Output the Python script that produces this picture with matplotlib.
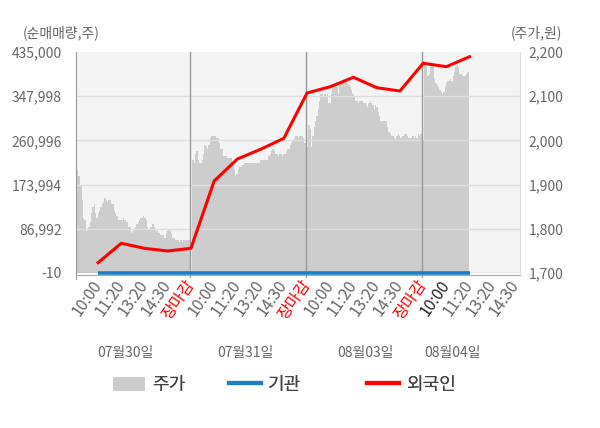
import numpy as np
import matplotlib
matplotlib.use("Agg")
import matplotlib.pyplot as plt
from matplotlib.patches import Patch
from matplotlib.lines import Line2D
from matplotlib.ticker import FixedLocator, FuncFormatter

plt.rcParams['font.family'] = ['Noto Sans CJK KR', 'DejaVu Sans']

# ---------------- data ----------------
tick_labels = ['10:00', '11:20', '13:20', '14:30', '장마감',
               '10:00', '11:20', '13:20', '14:30', '장마감',
               '10:00', '11:20', '13:20', '14:30', '장마감',
               '10:00', '11:20', '13:20', '14:30']
day_labels = ['07월30일', '07월31일', '08월03일', '08월04일']

price_day1 = [1940, 1935, 1920, 1920, 1900, 1865, 1825, 1820, 1795, 1795, 1805, 1815, 1835, 1850,
              1855, 1835, 1825, 1835, 1840, 1850, 1855, 1860, 1870, 1865, 1860, 1865, 1865, 1855,
              1855, 1840, 1835, 1830, 1820, 1820, 1820, 1820, 1825, 1820, 1815, 1815, 1805, 1805,
              1790, 1795, 1800, 1805, 1810, 1815, 1820, 1825, 1825, 1830, 1825, 1820, 1805, 1800,
              1805, 1805, 1810, 1805, 1800, 1795, 1790, 1790, 1785, 1785, 1785, 1780, 1790, 1795,
              1800, 1795, 1790, 1780, 1780, 1775, 1775, 1775, 1770, 1775, 1770, 1775, 1775, 1775,
              1775, 1775, 1780]
price_day2 = [1950, 1955, 1950, 1970, 1975, 1955, 1950, 1950, 1955, 1970, 1990, 1985, 1980, 1990,
              2005, 2010, 2010, 2010, 2010, 2005, 2005, 1995, 1980, 1980, 1965, 1965, 1965, 1960,
              1960, 1960, 1960, 1950, 1935, 1920, 1925, 1935, 1940, 1940, 1945, 1945, 1950, 1950,
              1950, 1950, 1950, 1950, 1950, 1950, 1950, 1950, 1950, 1950, 1955, 1955, 1955, 1955,
              1955, 1955, 1965, 1970, 1975, 1980, 1975, 1970, 1970, 1965, 1970, 1970, 1965, 1970,
              1970, 1975, 1980, 1980, 1990, 1995, 2000, 2005, 2010, 2010, 2005, 2010, 2010, 2010,
              2005, 1995, 1995, 1985, 1990, 1985]
price_day3 = [1990, 2035, 2025, 1985, 2010, 2030, 2045, 2055, 2070, 2090, 2105, 2105, 2100, 2105,
              2100, 2105, 2085, 2085, 2105, 2120, 2120, 2130, 2120, 2105, 2125, 2130, 2135, 2130,
              2135, 2135, 2130, 2125, 2120, 2115, 2105, 2100, 2090, 2090, 2085, 2090, 2090, 2090,
              2085, 2085, 2080, 2075, 2085, 2090, 2085, 2080, 2070, 2080, 2075, 2065, 2055, 2045,
              2045, 2045, 2045, 2045, 2030, 2020, 2015, 2010, 2010, 2005, 2000, 2010, 2015, 2010,
              2005, 2010, 2010, 2015, 2015, 2010, 2005, 2005, 2005, 2010, 2005, 2010, 2005, 2015,
              2010, 2015, 2005, 2000]
price_day4 = [2165, 2170, 2165, 2145, 2150, 2165, 2170, 2165, 2140, 2130, 2125, 2120, 2115, 2110,
              2105, 2110, 2120, 2130, 2135, 2135, 2140, 2135, 2145, 2155, 2165, 2170, 2165, 2150,
              2150, 2145, 2145, 2145, 2150, 2155, 2140]
price_days = [price_day1, price_day2, price_day3, price_day4]

foreign = [20300, 58500, 48600, 43300, 48600,
           181100, 224400, 243500, 265100, 354300,
           366700, 385200, 364700, 358200, 412800,
           406100, 425800]
institution = [0] * 17

left_ticks = [-10, 86992, 173994, 260996, 347998, 435000]
right_ticks = [1700, 1800, 1900, 2000, 2100, 2200]

# ---------------- figure ----------------
fig = plt.figure(figsize=(6.0, 4.28), dpi=100)
ax2 = fig.add_axes([76 / 600, 155 / 428, 444 / 600, 221 / 428])   # price (right)
ax = ax2.twinx()                                                  # volume (left)
ax.yaxis.set_label_position('left')
ax.yaxis.tick_left()
ax2.yaxis.tick_right()
ax.set_zorder(ax2.get_zorder() + 1)
ax.patch.set_visible(False)
ax2.set_facecolor('#f4f4f4')

# price area
n_full = len(price_day1)
step = 5.0 / n_full
for d, vals in enumerate(price_days):
    xs = 5 * d + step * (np.arange(len(vals)) + 0.5)
    ax2.fill_between(xs, 1700, vals, step='mid', color='#cdcdcd', lw=0)

ax2.set_ylim(1700, 2200)
ax2.yaxis.set_major_locator(FixedLocator(right_ticks))
ax2.yaxis.set_major_formatter(FuncFormatter(lambda v, p: f'{int(v):,}'))

xpos = np.arange(1, len(foreign) + 1)
ax.plot(xpos, institution, color='#1a7fc8', lw=2.6, zorder=5, clip_on=False,
        solid_capstyle='butt')
ax.plot(xpos, foreign, color='#ff0000', lw=2.2, zorder=6)

ax.set_ylim(-10, 435000)
ax.yaxis.set_major_locator(FixedLocator(left_ticks))
ax.yaxis.set_major_formatter(FuncFormatter(lambda v, p: f'{int(v):,}'))
ax2.set_xlim(0.05, 19.17)

# grid
ax.yaxis.grid(True, color='#dddddd', lw=1)
glines = ax.get_ygridlines()
glines[-1].set_visible(False)
glines[0].set_color('#aaaaaa')

# day dividers
for k in [5, 10, 15]:
    ax.axvline(k - 0.05, ymin=-0.02, ymax=1, color='#999999', lw=1, clip_on=False, zorder=4)

for a in (ax, ax2):
    for s in a.spines.values():
        s.set_visible(False)
ax.spines['left'].set_visible(True)
ax.spines['left'].set_color('#999999')
ax.spines['left'].set_bounds(-12000, 435000)
ax2.spines['right'].set_visible(True)
ax2.spines['right'].set_color('#dddddd')
ax2.spines['bottom'].set_visible(True)
ax2.spines['bottom'].set_color('#aaaaaa')
ax2.spines['bottom'].set_position(('outward', 1.5))

ax.tick_params(axis='y', length=0, pad=10, labelsize=10, labelcolor='#666666')
ax2.tick_params(axis='y', length=0, pad=6, labelsize=10, labelcolor='#666666')

ax2.set_xticks(np.arange(1, len(tick_labels) + 1))
ax2.set_xticklabels(tick_labels)
ax2.tick_params(axis='x', length=0, pad=5, labelsize=11.5, labelcolor='#666666',
                labelbottom=True)
for i, t in enumerate(ax2.get_xticklabels()):
    t.set_rotation(55)
    t.set_rotation_mode('anchor')
    t.set_ha('right')
    t.set_va('center')
    if tick_labels[i] == '장마감':
        t.set_color('#ff0000')
    elif i == 15:
        t.set_color('#222222')
ax.tick_params(axis='x', length=0, labelbottom=False, labeltop=False)

# axis titles
fig.text(23 / 600, 1 - 33 / 428, '(순매매량,주)', fontsize=10, color='#666666',
         ha='left', va='center')
fig.text(562 / 600, 1 - 33 / 428, '(주가,원)', fontsize=10, color='#666666',
         ha='right', va='center')

# day labels
for lbl, xp in zip(day_labels, [125, 245, 365, 452]):
    fig.text(xp / 600, 1 - 353 / 428, lbl, fontsize=10, color='#666666',
             ha='center', va='center')

# legend (three single-entry legends)
handles = [Patch(facecolor='#cdcdcd', edgecolor='none'),
           Line2D([], [], color='#1a7fc8', lw=3),
           Line2D([], [], color='#ff0000', lw=3)]
names = ['주가', '기관', '외국인']
for h, nm, xl in zip(handles, names, [100, 216, 354]):
    lg = fig.legend([h], [nm], loc='center left', bbox_to_anchor=(xl / 600, 1 - 385 / 428),
                    frameon=False, fontsize=13, handlelength=1.8, handleheight=0.8,
                    handletextpad=0.4, borderpad=0.2, labelcolor='#444444')
    fig.add_artist(lg)

fig.savefig('out.png', dpi=100)
